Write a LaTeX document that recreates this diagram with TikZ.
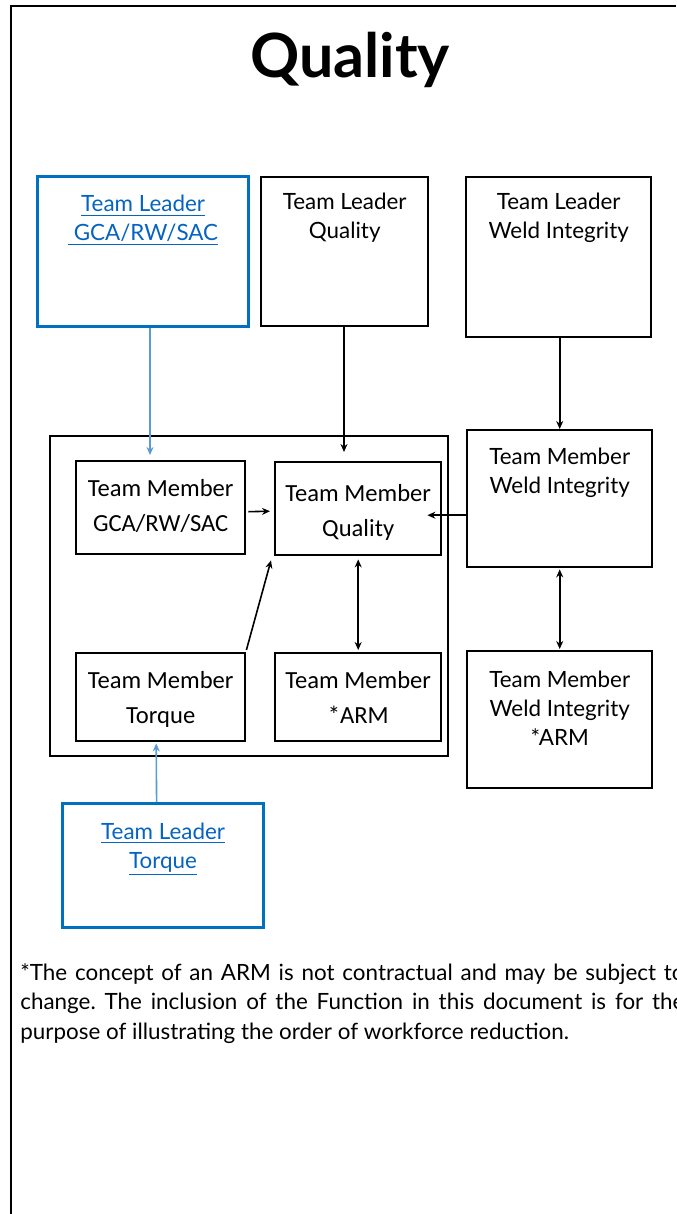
\documentclass[tikz,border=0pt]{standalone}
\usepackage{fontspec}
\setmainfont{Lato}
\newfontfamily\calib{Carlito}
\usetikzlibrary{arrows.meta,calc}
\definecolor{linkblue}{HTML}{0563C1}
\definecolor{frameblue}{HTML}{0070C0}
\definecolor{arrowblue}{HTML}{5B9BD5}

\begin{document}
\begin{tikzpicture}[x=0.5pt,y=-0.5pt,
  box/.style={draw=black, line width=1.2pt, anchor=north west, inner sep=0pt},
  leadbox/.style={draw=frameblue, line width=1.6pt, anchor=north west, inner sep=0pt},
  gill/.style={font=\fontsize{11.2}{14.5}\selectfont, align=center, inner sep=0pt, anchor=base},
  calibtext/.style={font=\calib\fontsize{12.3}{17.5}\selectfont, align=center, inner sep=0pt, anchor=base},
  arr/.style={line width=0.8pt, -{Stealth[length=4pt,width=3.5pt]}},
  darr/.style={line width=0.8pt, {Stealth[length=4pt,width=3.5pt]}-{Stealth[length=4pt,width=3.5pt]}},
  barr/.style={arr, draw=arrowblue},
]
\useasboundingbox (0,0) rectangle (676,1214);

% page frame
\draw[line width=1pt] (11,1214) -- (11,6) -- (676,6);

% heading
\node[font=\bfseries\fontsize{30.5}{36}\selectfont, anchor=base, inner sep=0pt] (title) at (350,78) {Quality};

% team leaders
\node[leadbox, minimum width=105.5pt, minimum height=75pt] (tlg) at (36,175) {};
\node[box, minimum width=83.5pt, minimum height=74.5pt] (tlq) at (260,176) {};
\node[box, minimum width=92.5pt, minimum height=80pt] (tlw) at (465,176) {};
\node[leadbox, minimum width=100.5pt, minimum height=62pt] (tlt) at (61,802) {};

% labels sit on the baseline of their last line
\node[gill, text=linkblue] (tlgT) at ($(tlg.north)+(0,66)$) {\underline{Team Leader}\\\underline{\ GCA/RW/SAC}};
\node[gill] (tlqT) at ($(tlq.north)+(0,63)$) {Team Leader\\Quality};
\node[gill] (tlwT) at ($(tlw.north)+(0,63)$) {Team Leader\\Weld Integrity};
\node[gill, text=linkblue] (tltT) at ($(tlt.north)+(0,66)$) {\underline{Team Leader}\\\underline{Torque}};

% team members grouped in the shared cell
\node[box, line width=1pt, minimum width=199pt, minimum height=160pt] (cell) at (49,435) {};
\node[box, minimum width=84.5pt, minimum height=46.5pt] (tmg) at (75,460) {};
\node[box, minimum width=83pt, minimum height=46.5pt] (tmq) at (274,461) {};
\node[box, minimum width=84.5pt, minimum height=44pt] (tmt) at (75,652) {};
\node[box, minimum width=83pt, minimum height=44pt] (tma) at (274,652) {};

\node[calibtext] (tmgT) at ($(tmg.north)+(0,71)$) {Team Member\\GCA/RW/SAC};
\node[calibtext] (tmqT) at ($(tmq.north)+(0,75)$) {Team Member\\Quality};
\node[calibtext] (tmtT) at ($(tmt.north)+(0,71)$) {Team Member\\Torque};
\node[calibtext] (tmaT) at ($(tma.north)+(0,71)$) {Team Member\\*ARM};

% weld integrity members
\node[box, minimum width=92.5pt, minimum height=68.5pt] (tmw) at (466,429) {};
\node[box, minimum width=92.5pt, minimum height=68.5pt] (tmwa) at (466,650) {};
\node[gill] (tmwT) at ($(tmw.north)+(0,64)$) {Team Member\\Weld Integrity};
\node[gill] (tmwaT) at ($(tmwa.north)+(0,95)$) {Team Member\\Weld Integrity\\*ARM};

% connector end points inside the shared cell
\coordinate (gcain) at (150,455);
\coordinate (qin) at (344,452);

% connectors
\draw[barr] (tlg.south -| gcain) -- (gcain);
\draw[arr] (tlq.south -| qin) -- (qin);
\draw[arr] (tlw.south -| tmw.north) -- (tmw.north);
\draw[arr] ($(tmg.east)+(2,4)$) -- ($(tmq.west)+(-4,2.5)$);
\draw[arr] ($(tmw.west)+(0,16.5)$) -- ($(tmq.east)+(-15,6.5)$);
\draw[arr] ($(tmt.north east)+(0,-2)$) -- ($(tmq.south west)+(-3,4)$);
\draw[darr] ($(tmq.south)+(0,3)$) -- ($(tma.north)+(0,-2)$);
\draw[darr] ($(tmw.south)+(0,1)$) -- ($(tmwa.north)+(0,-1)$);
\draw[barr] ($(tlt.north)+(-6.5,0)$) -- ($(tmt.south)+(-4.5,1)$);

% footnote
\node[anchor=north west, inner sep=0pt, text width=332pt, align=justify,
      font=\frenchspacing\fontsize{11.2}{14.75}\selectfont] (note) at (20,963)
  {*The concept of an ARM is not contractual and may be subject to\linebreak
   change. The inclusion of the Function in this document is for the\linebreak
   purpose of illustrating the order of workforce reduction.};
\end{tikzpicture}
\end{document}
